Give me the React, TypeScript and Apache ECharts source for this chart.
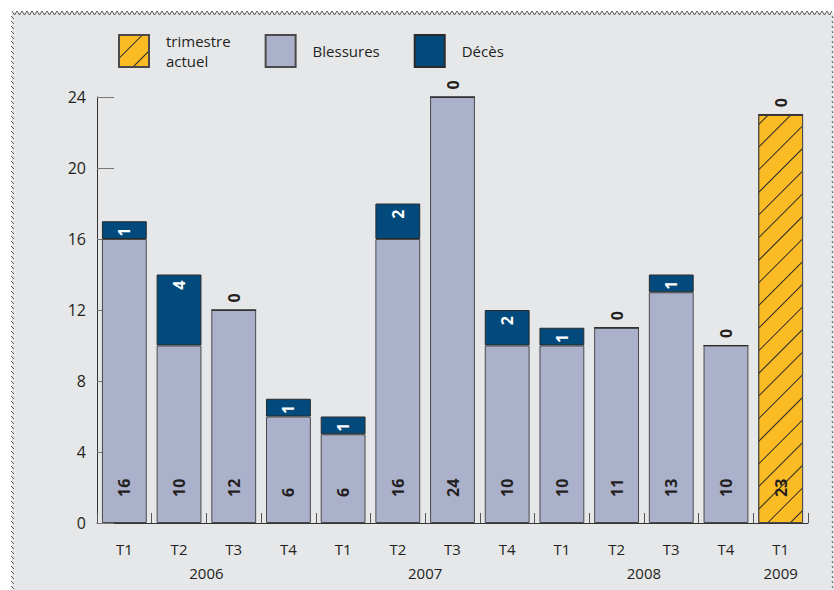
import React, { useEffect, useRef } from "react";
import * as echarts from "echarts";

const quarters = ["T1", "T2", "T3", "T4", "T1", "T2", "T3", "T4", "T1", "T2", "T3", "T4", "T1"];
// year labels placed on a half-step axis (27 slots, boundaryGap false)
const yearSlots = ["", "", "", "", "2006", "", "", "", "", "", "", "", "2007", "", "", "", "", "", "", "", "2008", "", "", "", "", "2009", ""];
const blessures: (number | string)[] = [16, 10, 12, 6, 5, 16, 24, 10, 10, 11, 13, 10, "-"];
const blessuresLabels = ["16", "10", "12", "6", "6", "16", "24", "10", "10", "11", "13", "10", ""];
const deces = [1, 4, 0, 1, 1, 2, 0, 2, 1, 0, 1, 0, 0];
const trimestreActuel: (number | string)[] = ["-", "-", "-", "-", "-", "-", "-", "-", "-", "-", "-", "-", 23];
const yTicks = { min: 0, max: 24, interval: 4 };

const FONT = "'Open Sans', 'Noto Sans', sans-serif";
const DARK = "#231f20";

export default function App() {
  const ref = useRef<HTMLDivElement>(null);
  useEffect(() => {
    if (!ref.current) return;
    const chart = echarts.init(ref.current, null, { renderer: "svg" });

    // decorative border
    const topZig: number[][] = [];
    for (let x = 12; x <= 834; x += 2.5) topZig.push([x, (Math.round((x - 12) / 2.5) % 2 === 0) ? 11 : 15]);
    const leftMarks: any[] = [];
    for (let y = 16; y < 590; y += 5) {
      leftMarks.push({ type: "line", shape: { x1: 11, y1: y, x2: 14, y2: y + 3 }, style: { stroke: "#555", lineWidth: 1 }, z: -5, silent: true });
    }
    const rightMarks: any[] = [];
    for (let y = 16; y < 590; y += 5) {
      rightMarks.push({ type: "line", shape: { x1: 832, y1: y, x2: 833, y2: y + 2 }, style: { stroke: "#555", lineWidth: 1 }, z: -5, silent: true });
    }

    const labelBase = {
      show: true,
      rotate: 90,
      fontFamily: FONT,
      fontSize: 16,
      fontWeight: "bold" as const,
    };

    chart.setOption({
      animation: false,
      backgroundColor: "transparent",
      textStyle: { fontFamily: FONT },
      graphic: [
        { type: "rect", shape: { x: 12, y: 13, width: 822, height: 577 }, style: { fill: "#e6e7e9" }, z: -10, silent: true },
        { type: "polyline", shape: { points: topZig }, style: { stroke: "#555", lineWidth: 1, fill: "none" }, z: -5, silent: true },
        ...leftMarks,
        ...rightMarks,
      ],
      legend: {
        top: 26,
        left: 113,
        itemWidth: 30,
        itemHeight: 32,
        itemGap: 34,
        icon: "rect",
        data: ["trimestre actuel", "Blessures", "Décès"],
        formatter: (n: string) => (n === "trimestre actuel" ? "trimestre\nactuel" : n),
        textStyle: { fontFamily: FONT, fontSize: 15, color: DARK, lineHeight: 20, padding: [0, 0, 0, 12] },
      },
      grid: { left: 97, right: 26, top: 97, bottom: 67 },
      xAxis: [
        {
          type: "category",
          data: quarters,
          position: "bottom",
          axisLine: { lineStyle: { color: "#333", width: 1 } },
          axisTick: { show: true, inside: true, length: 10, lineStyle: { color: "#555" } },
          axisLabel: { margin: 18, fontSize: 15, color: DARK, fontFamily: FONT, interval: 0 },
        },
        {
          type: "category",
          data: yearSlots,
          boundaryGap: false,
          position: "bottom",
          axisLine: { show: false },
          axisTick: { show: false },
          axisLabel: { margin: 42, fontSize: 15, color: DARK, fontFamily: FONT, interval: 0 },
        },
      ],
      yAxis: {
        type: "value",
        min: yTicks.min,
        max: yTicks.max,
        interval: yTicks.interval,
        splitLine: { show: false },
        axisLine: { show: true, lineStyle: { color: "#333", width: 1 } },
        axisTick: { show: true, inside: true, length: 17, lineStyle: { color: "#777" } },
        axisLabel: { margin: 11, fontSize: 16, color: DARK, fontFamily: FONT },
      },
      series: [
        {
          name: "Blessures",
          type: "bar",
          stack: "total",
          barCategoryGap: "18%",
          data: blessures,
          itemStyle: { color: "#abb1cb", borderColor: "#4a4a4a", borderWidth: 1 },
          label: {
            ...labelBase,
            position: "insideBottom",
            distance: 26,
            align: "left",
            verticalAlign: "middle",
            color: DARK,
            formatter: (p: any) => blessuresLabels[p.dataIndex],
          },
        },
        {
          name: "trimestre actuel",
          type: "bar",
          stack: "total",
          data: trimestreActuel,
          itemStyle: {
            color: "#fbbb24",
            borderColor: "#4a4a4a",
            borderWidth: 1,
            decal: {
              symbol: "rect",
              symbolSize: 1,
              rotation: -Math.PI / 4,
              color: "#2a2a2a",
              dashArrayX: [1, 0],
              dashArrayY: [1, 15],
            },
          },
          label: {
            ...labelBase,
            position: "insideBottom",
            distance: 26,
            align: "left",
            verticalAlign: "middle",
            color: DARK,
          },
        },
        {
          name: "Décès",
          type: "bar",
          stack: "total",
          itemStyle: { color: "#024a7c", borderColor: "#2a2a2a", borderWidth: 1 },
          data: deces.map((v) =>
            v === 0
              ? {
                  value: v,
                  label: { ...labelBase, position: "top", distance: 7, align: "left", verticalAlign: "middle", color: DARK },
                }
              : {
                  value: v,
                  label: { ...labelBase, position: "insideTop", distance: 6, align: "right", verticalAlign: "middle", color: "#ffffff" },
                }
          ),
        },
      ],
    });
    return () => chart.dispose();
  }, []);

  return (
    <div
      ref={ref}
      style={{ position: "fixed", left: 0, top: 0, width: 834, height: 590, background: "#ffffff" }}
    />
  );
}
